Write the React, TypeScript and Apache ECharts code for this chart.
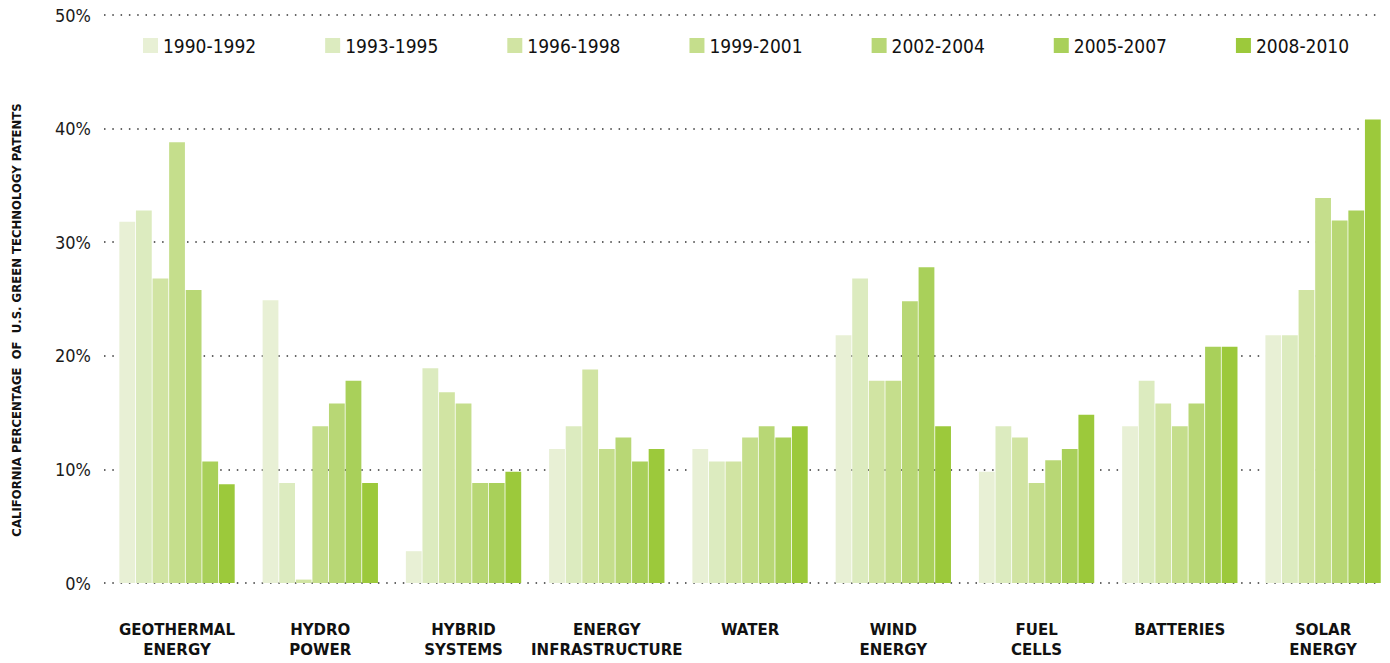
import React, { useEffect, useRef } from "react";
import * as echarts from "echarts";

const categories = [
  "GEOTHERMAL\nENERGY",
  "HYDRO\nPOWER",
  "HYBRID\nSYSTEMS",
  "ENERGY\nINFRASTRUCTURE",
  "WATER",
  "WIND\nENERGY",
  "FUEL\nCELLS",
  "BATTERIES",
  "SOLAR\nENERGY",
];

const periods = [
  "1990-1992",
  "1993-1995",
  "1996-1998",
  "1999-2001",
  "2002-2004",
  "2005-2007",
  "2008-2010",
];

const periodColors = [
  "#e8f0d5",
  "#dcebbf",
  "#d1e4a3",
  "#c5de8c",
  "#b8d775",
  "#a9d05a",
  "#9cc93b",
];

const v1990_1992 = [31.8, 24.9, 2.8, 11.8, 11.8, 21.8, 9.8, 13.8, 21.8];
const v1993_1995 = [32.8, 8.8, 18.9, 13.8, 10.7, 26.8, 13.8, 17.8, 21.8];
const v1996_1998 = [26.8, 0.3, 16.8, 18.8, 10.7, 17.8, 12.8, 15.8, 25.8];
const v1999_2001 = [38.8, 13.8, 15.8, 11.8, 12.8, 17.8, 8.8, 13.8, 33.9];
const v2002_2004 = [25.8, 15.8, 8.8, 12.8, 13.8, 24.8, 10.8, 15.8, 31.9];
const v2005_2007 = [10.7, 17.8, 8.8, 10.7, 12.8, 27.8, 11.8, 20.8, 32.8];
const v2008_2010 = [8.7, 8.8, 9.8, 11.8, 13.8, 13.8, 14.8, 20.8, 40.8];

const seriesValues = [
  v1990_1992,
  v1993_1995,
  v1996_1998,
  v1999_2001,
  v2002_2004,
  v2005_2007,
  v2008_2010,
];

const yMin = 0;
const yMax = 50;
const yInterval = 10;
const yTitle = "CALIFORNIA PERCENTAGE  OF  U.S. GREEN TECHNOLOGY PATENTS";

const condensed =
  "'DejaVu Sans Condensed', 'Liberation Sans Narrow', 'Roboto Condensed', 'DejaVu Sans', sans-serif";
const boldFont = "'DejaVu Sans', 'Noto Sans', sans-serif";

export default function App() {
  const ref = useRef<HTMLDivElement>(null);

  useEffect(() => {
    if (!ref.current) return;
    const chart = echarts.init(ref.current, undefined, { renderer: "svg" });

    const option: any = {
      animation: false,
      backgroundColor: "#ffffff",
      legend: {
        data: periods,
        left: 138,
        top: 31,
        itemWidth: 15,
        itemHeight: 15,
        itemGap: 69,
        icon: "rect",
        textStyle: {
          fontFamily: condensed,
          fontSize: 19,
          color: "#111111",
        },
      },
      grid: [
        { left: 104, right: 22, top: 15, bottom: 80 },
        { left: 105.4, right: 5.3, top: 15, bottom: 80 },
      ],
      xAxis: [
        {
          gridIndex: 0,
          type: "category",
          data: categories,
          show: false,
        },
        {
          gridIndex: 1,
          type: "category",
          data: categories,
          axisLine: { show: false },
          axisTick: { show: false },
          axisLabel: {
            interval: 0,
            margin: 37,
            fontFamily: boldFont,
            fontWeight: "bold",
            fontSize: 15,
            lineHeight: 20,
            color: "#111111",
          },
        },
      ],
      yAxis: [
        {
          gridIndex: 0,
          type: "value",
          min: yMin,
          max: yMax,
          interval: yInterval,
          axisLine: { show: false },
          axisTick: { show: false },
          axisLabel: {
            formatter: "{value}%",
            margin: 13,
            fontFamily: condensed,
            fontSize: 18,
            color: "#1a1a1a",
          },
          splitLine: {
            show: true,
            lineStyle: { type: [1.5, 6.8], color: "#333333", width: 1.5 },
          },
        },
        {
          gridIndex: 1,
          type: "value",
          min: yMin,
          max: yMax,
          interval: yInterval,
          show: false,
          splitLine: { show: false },
        },
      ],
      graphic: [
        {
          type: "text",
          x: 17,
          y: 320,
          rotation: Math.PI / 2,
          style: {
            text: yTitle,
            fontFamily: boldFont,
            fontWeight: "bold",
            fontSize: 11.7,
            fill: "#111111",
            textAlign: "center",
            textVerticalAlign: "middle",
          },
        },
      ],
      series: periods.map((p, i) => ({
        name: p,
        type: "bar",
        xAxisIndex: 1,
        yAxisIndex: 1,
        data: seriesValues[i],
        barWidth: 15.8,
        barGap: "5%",
        itemStyle: { color: periodColors[i] },
        emphasis: { disabled: true },
      })),
    };

    chart.setOption(option);
    return () => {
      chart.dispose();
    };
  }, []);

  return (
    <div
      style={{
        position: "fixed",
        left: 0,
        top: 0,
        width: 1390,
        height: 663,
        overflow: "hidden",
        background: "#ffffff",
      }}
    >
      <div ref={ref} style={{ width: 1400, height: 663 }} />
    </div>
  );
}
